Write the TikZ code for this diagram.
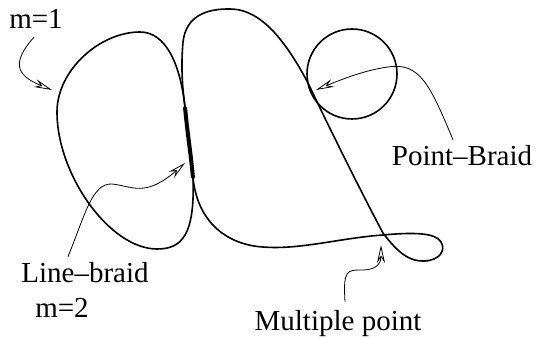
\documentclass[tikz,border=0pt]{standalone}
\usepackage{fontspec}
\setmainfont{Liberation Serif}
\usetikzlibrary{arrows.meta}
\begin{document}
\begin{tikzpicture}[x=1pt,y=-1pt,
  curve/.style={line width=1.6pt, line join=round},
  braid/.style={line width=4pt},
  pointer/.style={line width=0.8pt, -{Stealth[open,length=18pt,width=8pt,inset=6pt]}},
  lbl/.style={font=\fontsize{29}{32}\selectfont, inner sep=0pt, anchor=base}]
\useasboundingbox (0,0) rectangle (540,339);
% left lobe
\draw[curve] (185,107) .. controls (180,62) and (165,32) .. (140,32)
  .. controls (100,32) and (57,70) .. (57,112)
  .. controls (57,175) and (110,249) .. (157,249)
  .. controls (182,249) and (195,235) .. (193,178)
  .. controls (191,155) and (187,130) .. (185,107) -- cycle;
% middle lobe with right loop
\draw[curve] (185,107) .. controls (182,85) and (181,65) .. (183,42)
  .. controls (186,15) and (208,9) .. (228,9)
  .. controls (255,8) and (280,30) .. (308,83)
  .. controls (328,125) and (360,190) .. (383,233)
  .. controls (398,253) and (410,262) .. (425,261)
  .. controls (440,260) and (446,250) .. (441,242)
  .. controls (436,233) and (415,232) .. (383,235)
  .. controls (340,238) and (300,250) .. (263,247)
  .. controls (230,245) and (198,225) .. (193,178)
  .. controls (191,155) and (187,130) .. (185,107) -- cycle;
% thick line-braid
\draw[braid] (185,107) .. controls (187,130) and (191,155) .. (193,178);
% circle
\node[draw, circle, line width=1.6pt, minimum size=90pt, inner sep=0pt] (pb) at (352,74) {};
% labels
\node[lbl] (m1) at (36,29) {m=1};
\node[lbl] (lb) at (85,282) {Line–braid};
\node[lbl] (m2) at (62,317) {m=2};
\node[lbl] (pt) at (462,165) {Point–Braid};
\node[lbl] (mp) at (338,330) {Multiple point};
% arrow tips
\coordinate (t1) at (52,90);
\coordinate (t2) at (185,163);
\coordinate (t3) at (316,90);
\coordinate (t4) at (381,245);
% pointers
\draw[pointer] ([xshift=-2pt,yshift=-8pt]m1.south) .. controls (12,62) and (15,75) .. (t1);
\draw[pointer] ([xshift=-17pt,yshift=5pt]lb.north) .. controls (85,215) and (92,183) .. (112,184)
  .. controls (132,186) and (145,198) .. (t2);
\draw[pointer] ([xshift=-9pt,yshift=5pt]pt.north) .. controls (430,85) and (420,62) .. (388,67)
  .. controls (365,70) and (340,80) .. (t3);
\draw[pointer] ([xshift=7pt,yshift=8pt]mp.north) .. controls (343,270) and (347,270) .. (362,270)
  .. controls (378,270) and (381,262) .. (t4);
\end{tikzpicture}
\end{document}
